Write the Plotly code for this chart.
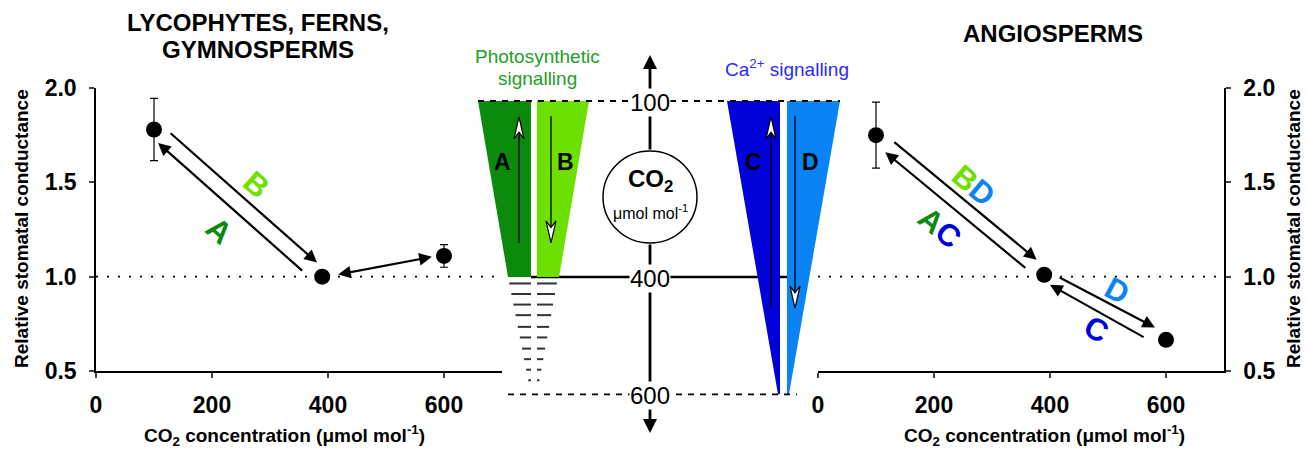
import plotly.graph_objects as go

# ---------------- data ----------------
co2_left = [100, 390, 600]
gs_left = [1.78, 1.00, 1.11]
err_left = [0.165, 0.0, 0.06]

co2_right = [100, 390, 600]
gs_right = [1.75, 1.01, 0.665]
err_right = [0.175, 0.0, 0.0]

x_ticks = [0, 200, 400, 600]
y_ticks = [0.5, 1.0, 1.5, 2.0]
y_ticktext = ["0.5", "1.0", "1.5", "2.0"]

co2_levels = [100, 400, 600]
co2_level_labels = ["100", "400", "600"]

# arrows in the panels: (tail_x, tail_y, tip_x, tip_y, double)
left_arrows = [
    (358, 1.025, 107, 1.709, False),   # A
    (126, 1.767, 381, 1.075, False),   # B
    (415, 1.010, 579, 1.105, True),
]
right_arrows = [
    (129, 1.72, 377, 1.09, False),     # BD
    (360, 1.04, 116, 1.66, False),     # AC
    (414, 1.00, 581, 0.73, False),     # D
    (564, 0.675, 400, 0.957, False),   # C
]

COL_A = "#0b8a0b"
COL_B = "#6ee000"
COL_C = "#0000d8"
COL_D = "#0a84f5"
TXT_GREEN = "#22a022"
TXT_BLUE = "#2a2aff"

W, H = 1307, 449
FONT = "Liberation Sans, Arial, sans-serif"


def px(x):
    return x / W


def py(y):
    return 1 - y / H


# central schematic: y in CO2 units, mapped to pixel rows
K = 0.5867                      # pixels per CO2 unit
def co2_at(pix):
    return 100 + (pix - 101) / K


fig = go.Figure()

# panels
fig.add_trace(go.Scatter(
    x=co2_left, y=gs_left, mode="markers", xaxis="x", yaxis="y",
    marker=dict(size=16, color="black"),
    error_y=dict(type="data", array=err_left, color="black", thickness=1.2, width=4),
    showlegend=False, hoverinfo="skip"))
fig.add_trace(go.Scatter(
    x=co2_right, y=gs_right, mode="markers", xaxis="x2", yaxis="y2",
    marker=dict(size=16, color="black"),
    error_y=dict(type="data", array=err_right, color="black", thickness=1.2, width=4),
    showlegend=False, hoverinfo="skip"))
# invisible anchor trace for the central CO2 scale
fig.add_trace(go.Scatter(
    x=[650] * len(co2_levels), y=co2_levels, mode="markers", xaxis="x3", yaxis="y3",
    marker=dict(opacity=0), showlegend=False, hoverinfo="skip"))

shapes = []
annotations = []

# dotted reference lines at relative conductance = 1
for xr, yr in (("x", "y"), ("x2", "y2")):
    shapes.append(dict(type="line", xref=xr, yref=yr, x0=0, x1=700, y0=1, y1=1,
                       line=dict(color="black", width=1.6, dash="2px,9px")))

# ---- central schematic ----
shapes.append(dict(type="line", xref="x3", yref="y3", x0=531, x1=787, y0=400, y1=400,
                   line=dict(color="black", width=2.5)))

wedges = [
    ([(478, 100), (531, 100), (531, 400), (508, 400)], COL_A),
    ([(537, 100), (589, 100), (559, 400), (537, 400)], COL_B),
    ([(727, 100), (780, 100), (780, 600), (778, 600)], COL_C),
    ([(787, 100), (840, 100), (789, 600), (787, 600)], COL_D),
]
for pts, col in wedges:
    path = "M " + " L ".join(f"{a},{b}" for a, b in pts) + " Z"
    shapes.append(dict(type="path", xref="x3", yref="y3", path=path,
                       fillcolor=col, line=dict(width=0)))

# tapering dashes below the green wedges
dash_levels = [411, 429, 447, 465, 485, 503, 522, 540, 558, 576]
for lv in dash_levels:
    f = (600 - lv) / 200
    shapes.append(dict(type="line", xref="x3", yref="y3", x0=531 - 23 * f, x1=531,
                       y0=lv, y1=lv, line=dict(color="#333333", width=2)))
    shapes.append(dict(type="line", xref="x3", yref="y3", x0=537, x1=537 + 21 * f,
                       y0=lv, y1=lv, line=dict(color="#333333", width=2)))

# dashed 100 and 600 lines
shapes.append(dict(type="line", xref="x3", yref="y3", x0=478, x1=840, y0=100, y1=100,
                   line=dict(color="black", width=1.8, dash="6px,6px")))
shapes.append(dict(type="line", xref="x3", yref="y3", x0=508, x1=797, y0=600, y1=600,
                   line=dict(color="black", width=1.8, dash="6px,6px")))

# thin arrows inside wedges with white heads
wedge_arrows = [  # x, tail co2, tip co2
    (519, 342, 127),
    (551, 126, 342),
    (771, 451, 127),
    (795, 126, 453),
]
HL = 22 / K
for x, t0, t1 in wedge_arrows:
    s = 1 if t1 < t0 else -1
    shapes.append(dict(type="line", xref="x3", yref="y3", x0=x, x1=x, y0=t0, y1=t1 + s * 0.5 * HL,
                       line=dict(color="black", width=1.3)))
    path = (f"M {x},{t1} L {x - 5},{t1 + s * HL} L {x},{t1 + s * 0.7 * HL} "
            f"L {x + 5},{t1 + s * HL} Z")
    shapes.append(dict(type="path", xref="x3", yref="y3", path=path,
                       fillcolor="white", line=dict(color="black", width=1.2)))

# central circle
shapes.append(dict(type="circle", xref="x3", yref="y3", x0=603, x1=697,
                   y0=co2_at(151), y1=co2_at(243), fillcolor="white",
                   line=dict(color="black", width=1.5)))


def txt(x, y, text, size, color="black", angle=0, xref="paper", yref="paper", **kw):
    d = dict(x=x, y=y, xref=xref, yref=yref, text=text, showarrow=False,
             xanchor="center", yanchor="middle", textangle=angle,
             font=dict(family=FONT, size=size, color=color))
    d.update(kw)
    annotations.append(d)


# vertical CO2 axis arrows
for tip, tail in ((co2_at(55), co2_at(151)), (co2_at(433), co2_at(243))):
    annotations.append(dict(x=650, y=tip, ax=650, ay=tail, xref="x3", yref="y3",
                            axref="x3", ayref="y3", text="", showarrow=True, arrowhead=2,
                            arrowwidth=2.8, arrowsize=1, arrowcolor="black", standoff=0))

# level labels
for lv, lab in zip(co2_levels, co2_level_labels):
    txt(650, lv, lab, 24, xref="x3", yref="y3", bgcolor="white", borderpad=0, yshift=-1)

# circle text
txt(px(650), py(181), "<b>CO<sub>2</sub></b>", 24)
txt(px(650), py(212), "μmol mol<sup>-1</sup>", 16)

# wedge letters
for lx, lt in ((502, "A"), (565, "B"), (753, "C"), (810, "D")):
    txt(px(lx), py(162), f"<b>{lt}</b>", 23)

# signalling labels
txt(px(537), py(57), "Photosynthetic", 19, TXT_GREEN)
txt(px(537), py(79), "signalling", 19, TXT_GREEN)
txt(px(787), py(68), "Ca<sup>2+</sup> signalling", 19, TXT_BLUE)

# panel arrows
for xr, yr, arrs in (("x", "y", left_arrows), ("x2", "y2", right_arrows)):
    for tx, ty, hx, hy, dbl in arrs:
        annotations.append(dict(x=hx, y=hy, ax=tx, ay=ty, xref=xr, yref=yr, axref=xr, ayref=yr,
                                text="", showarrow=True, arrowhead=2, startarrowhead=2,
                                arrowside="end+start" if dbl else "end",
                                arrowwidth=2.2, arrowsize=1.15, startarrowsize=1.15,
                                arrowcolor="black", standoff=0, startstandoff=0))


def span(c, t):
    return f"<span style='color:{c}'>{t}</span>"


# panel letters (rotated, bold)
LS = 31
txt(212, 1.245, "<b>" + span(COL_A, "A") + "</b>", LS, angle=41, xref="x", yref="y")
txt(276, 1.488, "<b>" + span(COL_B, "B") + "</b>", LS, angle=41, xref="x", yref="y")
txt(268, 1.482, "<b>" + span(COL_B, "B") + span(COL_D, "D") + "</b>", LS, angle=40,
    xref="x2", yref="y2")
txt(209, 1.258, "<b>" + span(COL_A, "A") + span(COL_C, "C") + "</b>", LS, angle=40,
    xref="x2", yref="y2")
txt(515, 0.928, "<b>" + span(COL_D, "D") + "</b>", LS, angle=28, xref="x2", yref="y2")
txt(480, 0.718, "<b>" + span(COL_C, "C") + "</b>", LS, angle=28, xref="x2", yref="y2")

# titles
txt(px(258), py(23), "<b>LYCOPHYTES, FERNS,</b>", 24)
txt(px(258), py(49), "<b>GYMNOSPERMS</b>", 24)
txt(px(1053), py(33), "<b>ANGIOSPERMS</b>", 24)

# axis titles
xlab = "<b>CO<sub>2</sub> concentration (μmol mol<sup>-1</sup>)</b>"
for tx in (284, 1044):
    txt(px(tx), py(435), xlab, 19)
ylab = "<b>Relative stomatal conductance</b>"
for tx in (21, 1293):
    txt(px(tx), py(229), ylab, 19, angle=-90)

xaxis_common = dict(range=[0, 700], tickvals=x_ticks, ticks="outside", ticklen=5,
                    tickwidth=1.5, showline=True, linecolor="black", linewidth=1.5,
                    showgrid=False, zeroline=False, ticklabelstandoff=8, automargin=False,
                    tickfont=dict(family=FONT, size=23, color="black", weight="bold"))
yaxis_common = dict(range=[0.5, 2.0], tickvals=y_ticks, ticktext=y_ticktext, ticks="outside",
                    ticklen=5, tickwidth=1.5, showline=True, linecolor="black", linewidth=1.5,
                    showgrid=False, zeroline=False, ticklabelstandoff=8, automargin=False,
                    domain=[py(371), py(88)],
                    tickfont=dict(family=FONT, size=23, color="black", weight="bold"))

fig.update_layout(
    template="none",
    width=W, height=H, margin=dict(l=0, r=0, t=0, b=0, pad=0, autoexpand=False),
    paper_bgcolor="white", plot_bgcolor="rgba(0,0,0,0)",
    xaxis=dict(xaxis_common, domain=[px(96), px(502)], anchor="y"),
    yaxis=dict(yaxis_common, anchor="x"),
    xaxis2=dict(xaxis_common, domain=[px(818), px(1224)], anchor="y2"),
    yaxis2=dict(yaxis_common, anchor="x2", side="right"),
    xaxis3=dict(domain=[0, 1], range=[0, W], visible=False, anchor="y3", automargin=False),
    yaxis3=dict(domain=[0, 1], range=[co2_at(H), co2_at(0)], visible=False, anchor="x3",
                automargin=False),
    shapes=shapes, annotations=annotations, showlegend=False,
)

fig.write_html("out.html", config={"displayModeBar": False},
               post_script="document.body.style.margin='0';")
